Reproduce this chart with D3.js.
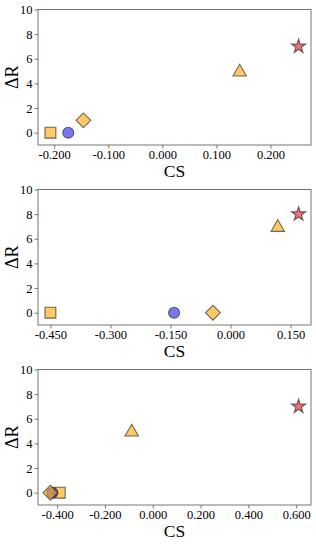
<!DOCTYPE html>
<html>
<head>
<meta charset="utf-8">
<script src="https://cdn.jsdelivr.net/npm/d3@7"></script>
<style>
  body { margin: 0; background: #fff; }
</style>
</head>
<body>
<script>
const width = 316;
const height = 544;
const serif = '"Liberation Serif", "Times New Roman", "DejaVu Serif", serif';

// marker order: square, circle, diamond, triangle, star
const shapes = ['square', 'circle', 'diamond', 'triangle', 'star'];
const colors = ['orange', 'blue', 'orange', 'orange', 'red'];

const cs1 = [-0.207, -0.174, -0.146, 0.143, 0.252];
const dr1 = [0, 0, 1, 5, 7];
const ticks1 = [-0.2, -0.1, 0, 0.1, 0.2];

const cs2 = [-0.45, -0.141, -0.044, 0.118, 0.17];
const dr2 = [0, 0, 0, 7, 8];
const ticks2 = [-0.45, -0.3, -0.15, 0, 0.15];

const cs3 = [-0.389, -0.42, -0.428, -0.088, 0.61];
const dr3 = [0, 0, 0, 5, 7];
const ticks3 = [-0.4, -0.2, 0, 0.2, 0.4, 0.6];

const yTicks = [0, 2, 4, 6, 8, 10];

const panels = [
  { cs: cs1, dr: dr1, ticks: ticks1 },
  { cs: cs2, dr: dr2, ticks: ticks2 },
  { cs: cs3, dr: dr3, ticks: ticks3 },
];

const fills = { orange: 'rgb(255,165,0)', blue: 'rgb(30,30,235)', red: 'rgb(232,20,30)' };

const svg = d3.select('body').append('svg').attr('width', width).attr('height', height);

const margin = { left: 38, right: 5, top: 9.5, bottom: 35 };
const panelH = 180;

function symbolFor(shape) {
  if (shape === 'square') return d3.symbol(d3.symbolSquare, 118)();
  if (shape === 'circle') return d3.symbol(d3.symbolCircle, 95)();
  if (shape === 'diamond') return d3.symbol(d3.symbolSquare, 110)();
  if (shape === 'triangle') return d3.symbol(d3.symbolTriangle, 78)();
  return d3.symbol(d3.symbolStar, 62)();
}

function fmt(v) {
  return v.toFixed(3);
}

panels.forEach(function (p, i) {
  const g = svg.append('g').attr('transform', 'translate(0,' + i * panelH + ')');
  const x0 = margin.left;
  const x1 = width - margin.right;
  const y0 = margin.top;
  const y1 = panelH - margin.bottom;

  const ext = d3.extent(p.cs);
  const pad = (ext[1] - ext[0]) * 0.05;
  const x = d3.scaleLinear().domain([ext[0] - pad, ext[1] + pad]).range([x0, x1]);
  const y = d3.scaleLinear().domain([-1, 10]).range([y1, y0]);

  const xAxis = d3.axisBottom(x).tickValues(p.ticks).tickFormat(fmt).tickSize(3.5).tickPadding(2);
  const yAxis = d3.axisLeft(y).tickValues(yTicks).tickSize(3.5).tickPadding(2);

  const gx = g.append('g').attr('transform', 'translate(0,' + y1 + ')').call(xAxis);
  const gy = g.append('g').attr('transform', 'translate(' + x0 + ',0)').call(yAxis);
  [gx, gy].forEach(function (a) {
    a.attr('font-family', serif);
    a.select('.domain').remove();
    a.selectAll('.tick line').attr('stroke', '#555').attr('stroke-width', 0.8);
    a.selectAll('.tick text').attr('font-size', 12.5).attr('fill', '#000');
  });

  // frame
  g.append('rect')
    .attr('x', x0)
    .attr('y', y0)
    .attr('width', x1 - x0)
    .attr('height', y1 - y0)
    .attr('fill', 'none')
    .attr('stroke', '#666')
    .attr('stroke-width', 0.9);

  const pts = p.cs.map(function (c, k) {
    return { cs: c, dr: p.dr[k], shape: shapes[k], color: colors[k] };
  });

  g.selectAll('.pt')
    .data(pts)
    .enter()
    .append('path')
    .attr('class', 'pt')
    .attr('d', function (d) {
      return symbolFor(d.shape);
    })
    .attr('transform', function (d) {
      let t = 'translate(' + x(d.cs) + ',' + y(d.dr) + ')';
      if (d.shape === 'diamond') t += ' rotate(45)';
      if (d.shape === 'triangle') t += ' translate(0,1)';
      return t;
    })
    .attr('fill', function (d) {
      return fills[d.color];
    })
    .attr('fill-opacity', 0.6)
    .attr('stroke', '#222')
    .attr('stroke-opacity', 0.65)
    .attr('stroke-width', 1.1);

  g.append('text')
    .attr('x', (x0 + x1) / 2)
    .attr('y', y1 + 32)
    .attr('text-anchor', 'middle')
    .attr('font-family', serif)
    .attr('font-size', 17.5)
    .text('CS');

  g.append('text')
    .attr('transform', 'translate(18,' + (y0 + y1) / 2 + ') rotate(-90)')
    .attr('text-anchor', 'middle')
    .attr('font-family', serif)
    .attr('font-size', 18)
    .text('ΔR');
});
</script>
</body>
</html>
